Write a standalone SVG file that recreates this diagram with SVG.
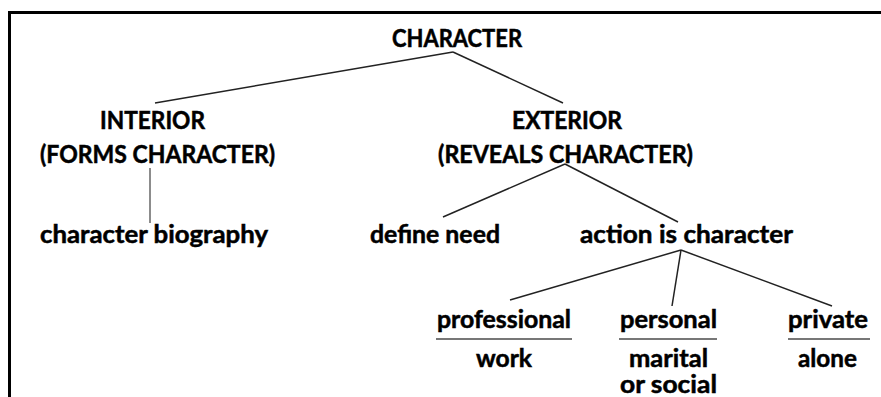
<svg xmlns="http://www.w3.org/2000/svg" width="881" height="397" viewBox="0 0 881 397">
<style>
text{font-family:"Lato","Gill Sans","Liberation Sans",sans-serif;font-weight:bold;font-size:24px;fill:#000;stroke:#000;stroke-width:0.5;}
.edge{stroke:#222;stroke-width:1.5;fill:none;}
.ul{stroke:#777;stroke-width:2.2;}
.frame{stroke:#000;stroke-width:3;fill:none;}
</style>
<rect width="881" height="397" fill="#fff"/>
<path class="frame" d="M9.5 400 V12.5 H881"/>
<g id="connectors">
<line class="edge" x1="453" y1="52" x2="155" y2="103"/>
<line class="edge" x1="453" y1="52" x2="563" y2="103"/>
<line class="edge" x1="150" y1="168" x2="150" y2="223" style="stroke:#666"/>
<line class="edge" x1="565" y1="164" x2="443" y2="217"/>
<line class="edge" x1="565" y1="164" x2="678" y2="222"/>
<line class="edge" x1="681" y1="250" x2="510" y2="300"/>
<line class="edge" x1="681" y1="250" x2="672" y2="306"/>
<line class="edge" x1="681" y1="250" x2="832" y2="306"/>
</g>
<g id="character"><text x="392" y="47" textLength="130" lengthAdjust="spacingAndGlyphs">CHARACTER</text></g>
<g id="interior">
<text x="100" y="129" textLength="105" lengthAdjust="spacingAndGlyphs">INTERIOR</text>
<text x="40" y="163" textLength="235" lengthAdjust="spacingAndGlyphs">(FORMS CHARACTER)</text>
</g>
<g id="exterior">
<text x="512" y="129" textLength="110" lengthAdjust="spacingAndGlyphs">EXTERIOR</text>
<text x="438" y="163" textLength="255" lengthAdjust="spacingAndGlyphs">(REVEALS CHARACTER)</text>
</g>
<g id="biography"><text x="40" y="243" textLength="228" lengthAdjust="spacingAndGlyphs">character biography</text></g>
<g id="define-need"><text x="370" y="243" textLength="130" lengthAdjust="spacingAndGlyphs">define need</text></g>
<g id="action"><text x="580" y="243" textLength="213" lengthAdjust="spacingAndGlyphs">action is character</text></g>
<g id="professional">
<text x="437" y="328" textLength="134" lengthAdjust="spacingAndGlyphs">professional</text>
<line class="ul" x1="436" y1="339" x2="572" y2="339"/>
<text x="476" y="367" textLength="56" lengthAdjust="spacingAndGlyphs">work</text>
</g>
<g id="personal">
<text x="620" y="328" textLength="97" lengthAdjust="spacingAndGlyphs">personal</text>
<line class="ul" x1="619" y1="339" x2="717" y2="339"/>
<text x="629" y="367" textLength="79" lengthAdjust="spacingAndGlyphs">marital</text>
<text x="620" y="393" textLength="97" lengthAdjust="spacingAndGlyphs">or social</text>
</g>
<g id="private">
<text x="788" y="328" textLength="80" lengthAdjust="spacingAndGlyphs">private</text>
<line class="ul" x1="788" y1="339" x2="870" y2="339"/>
<text x="798" y="367" textLength="59" lengthAdjust="spacingAndGlyphs">alone</text>
</g>
</svg>
